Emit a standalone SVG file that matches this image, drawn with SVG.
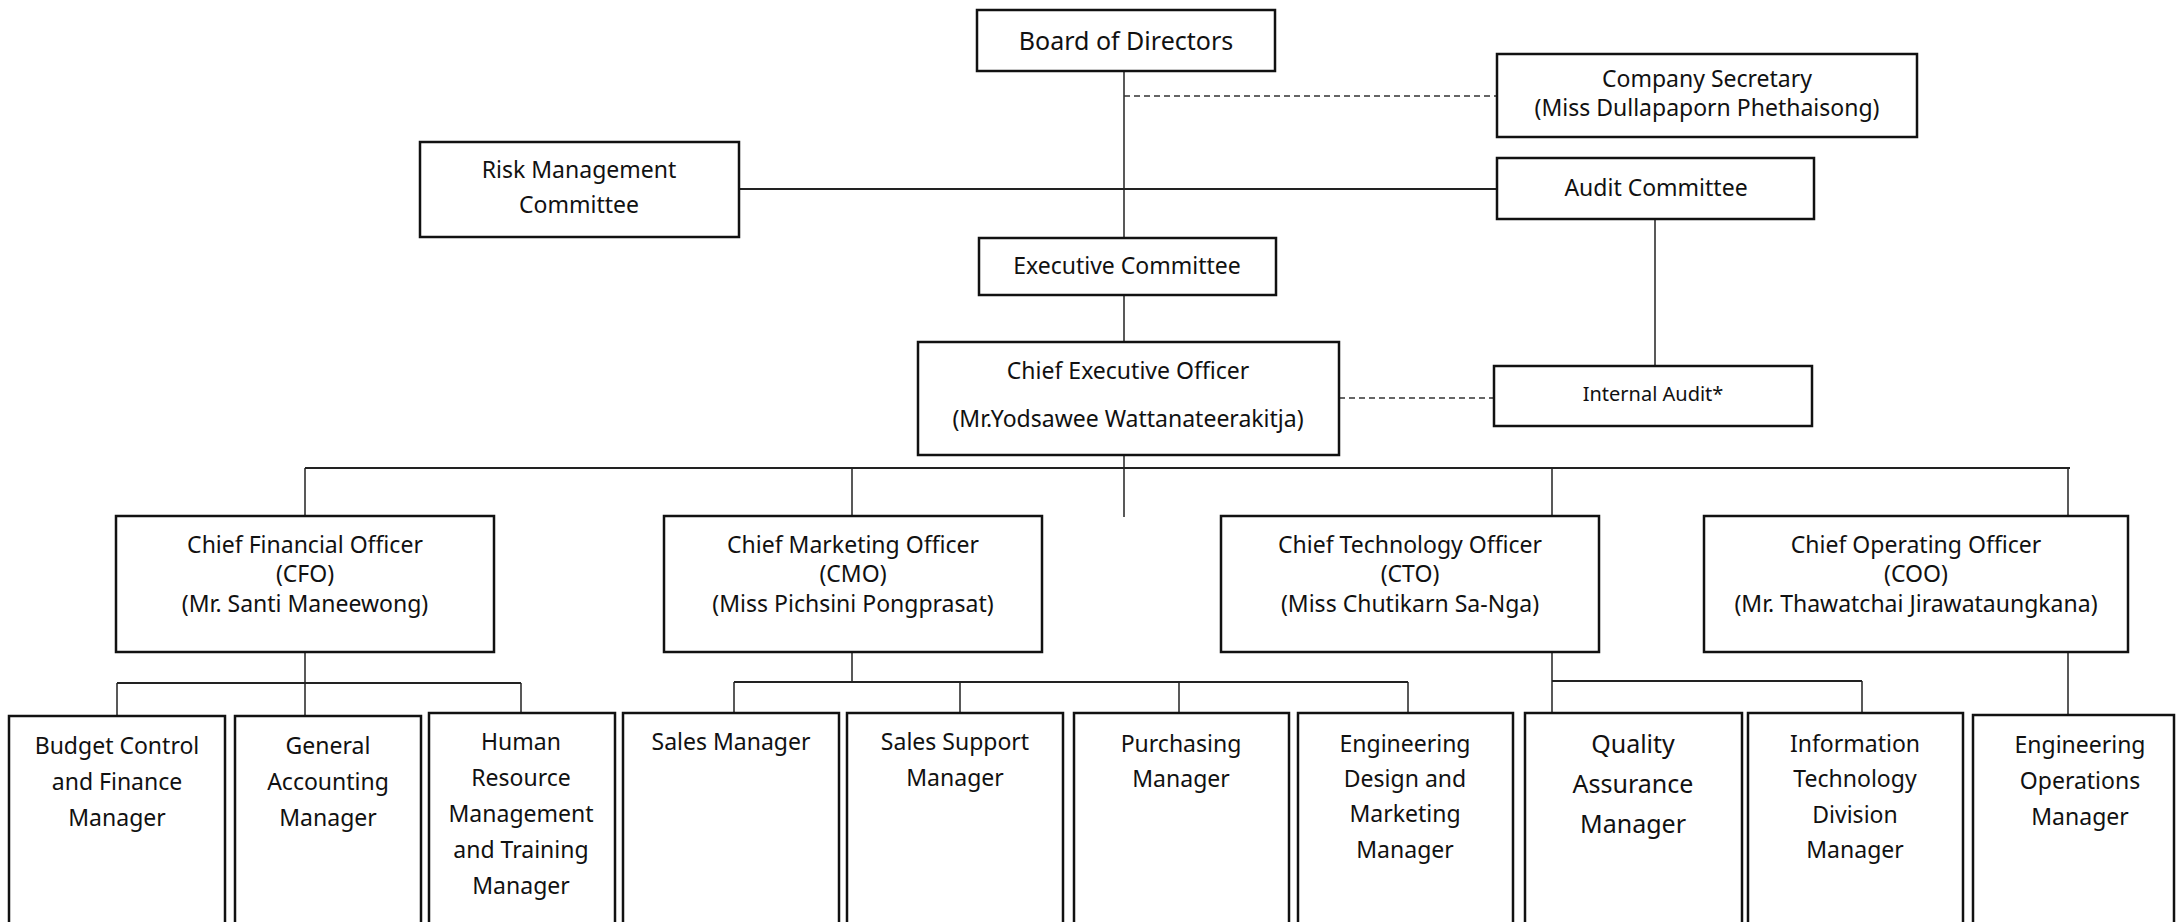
<svg xmlns="http://www.w3.org/2000/svg" width="2176" height="922" viewBox="0 0 2176 922">
<style>
.box{fill:#fff;stroke:#111;stroke-width:2.5}
.t{font-family:"Noto Sans","Open Sans",sans-serif;font-size:23px;fill:#111;text-anchor:middle}
.b{font-size:25px}
.s{font-size:20px}
.q{font-size:25px}
.c{stroke:#222;stroke-width:1.5;fill:none}
.d{stroke:#333;stroke-width:1.5;fill:none;stroke-dasharray:6 4}
</style>
<rect width="2176" height="922" fill="#fff"/>
<g id="connectors">
<line class="c" x1="1124" y1="71" x2="1124" y2="238"/>
<line class="d" x1="1124" y1="96" x2="1497" y2="96"/>
<line class="c" x1="739" y1="189" x2="1497" y2="189" style="stroke-width:2"/>
<line class="c" x1="1655" y1="219" x2="1655" y2="366"/>
<line class="c" x1="1124" y1="295" x2="1124" y2="342"/>
<line class="d" x1="1339" y1="398" x2="1494" y2="398"/>
<line class="c" x1="1124" y1="455" x2="1124" y2="517"/>
<line class="c" x1="305" y1="468" x2="2070" y2="468" style="stroke-width:2"/>
<line class="c" x1="305" y1="468" x2="305" y2="516"/>
<line class="c" x1="852" y1="468" x2="852" y2="516"/>
<line class="c" x1="1552" y1="468" x2="1552" y2="516"/>
<line class="c" x1="2068" y1="468" x2="2068" y2="516"/>
<line class="c" x1="305" y1="652" x2="305" y2="716"/>
<line class="c" x1="117" y1="683" x2="521" y2="683" style="stroke-width:2"/>
<line class="c" x1="117" y1="683" x2="117" y2="716"/>
<line class="c" x1="521" y1="683" x2="521" y2="713"/>
<line class="c" x1="852" y1="652" x2="852" y2="682"/>
<line class="c" x1="734" y1="682" x2="1408" y2="682" style="stroke-width:2"/>
<line class="c" x1="734" y1="682" x2="734" y2="713"/>
<line class="c" x1="960" y1="682" x2="960" y2="713"/>
<line class="c" x1="1179" y1="682" x2="1179" y2="713"/>
<line class="c" x1="1408" y1="682" x2="1408" y2="713"/>
<line class="c" x1="1552" y1="652" x2="1552" y2="713"/>
<line class="c" x1="1552" y1="681" x2="1862" y2="681" style="stroke-width:2"/>
<line class="c" x1="1862" y1="681" x2="1862" y2="713"/>
<line class="c" x1="2068" y1="652" x2="2068" y2="715"/>
</g>
<g id="board"><rect class="box" x="977" y="10" width="298" height="61"/><text class="t b" x="1126" y="50">Board of Directors</text></g>
<g id="secretary"><rect class="box" x="1497" y="54" width="420" height="83"/><text class="t" x="1707" y="87">Company Secretary</text><text class="t" x="1707" y="116">(Miss Dullapaporn Phethaisong)</text></g>
<g id="risk"><rect class="box" x="420" y="142" width="319" height="95"/><text class="t" x="579" y="178">Risk Management</text><text class="t" x="579" y="213">Committee</text></g>
<g id="audit"><rect class="box" x="1497" y="158" width="317" height="61"/><text class="t" x="1656" y="196">Audit Committee</text></g>
<g id="exec"><rect class="box" x="979" y="238" width="297" height="57"/><text class="t" x="1127" y="274">Executive Committee</text></g>
<g id="ceo"><rect class="box" x="918" y="342" width="421" height="113"/><text class="t" x="1128" y="379">Chief Executive Officer</text><text class="t" x="1128" y="427">(Mr.Yodsawee Wattanateerakitja)</text></g>
<g id="internal-audit"><rect class="box" x="1494" y="366" width="318" height="60"/><text class="t s" x="1653" y="401">Internal Audit*</text></g>
<g id="cfo"><rect class="box" x="116" y="516" width="378" height="136"/><text class="t" x="305" y="553">Chief Financial Officer</text><text class="t" x="305" y="582">(CFO)</text><text class="t" x="305" y="612">(Mr. Santi Maneewong)</text></g>
<g id="cmo"><rect class="box" x="664" y="516" width="378" height="136"/><text class="t" x="853" y="553">Chief Marketing Officer</text><text class="t" x="853" y="582">(CMO)</text><text class="t" x="853" y="612">(Miss Pichsini Pongprasat)</text></g>
<g id="cto"><rect class="box" x="1221" y="516" width="378" height="136"/><text class="t" x="1410" y="553">Chief Technology Officer</text><text class="t" x="1410" y="582">(CTO)</text><text class="t" x="1410" y="612">(Miss Chutikarn Sa-Nga)</text></g>
<g id="coo"><rect class="box" x="1704" y="516" width="424" height="136"/><text class="t" x="1916" y="553">Chief Operating Officer</text><text class="t" x="1916" y="582">(COO)</text><text class="t" x="1916" y="612">(Mr. Thawatchai Jirawataungkana)</text></g>
<g id="budget"><rect class="box" x="9" y="716" width="216" height="230"/><text class="t" x="117" y="754">Budget Control</text><text class="t" x="117" y="790">and Finance</text><text class="t" x="117" y="826">Manager</text></g>
<g id="general-accounting"><rect class="box" x="235" y="716" width="186" height="230"/><text class="t" x="328" y="754">General</text><text class="t" x="328" y="790">Accounting</text><text class="t" x="328" y="826">Manager</text></g>
<g id="hr"><rect class="box" x="429" y="713" width="186" height="230"/><text class="t" x="521" y="750">Human</text><text class="t" x="521" y="786">Resource</text><text class="t" x="521" y="822">Management</text><text class="t" x="521" y="858">and Training</text><text class="t" x="521" y="894">Manager</text></g>
<g id="sales"><rect class="box" x="623" y="713" width="216" height="230"/><text class="t" x="731" y="750">Sales Manager</text></g>
<g id="sales-support"><rect class="box" x="847" y="713" width="216" height="230"/><text class="t" x="955" y="750">Sales Support</text><text class="t" x="955" y="786">Manager</text></g>
<g id="purchasing"><rect class="box" x="1074" y="713" width="215" height="230"/><text class="t" x="1181" y="752">Purchasing</text><text class="t" x="1181" y="787">Manager</text></g>
<g id="eng-design"><rect class="box" x="1298" y="713" width="215" height="230"/><text class="t" x="1405" y="752">Engineering</text><text class="t" x="1405" y="787">Design and</text><text class="t" x="1405" y="822">Marketing</text><text class="t" x="1405" y="858">Manager</text></g>
<g id="quality"><rect class="box" x="1525" y="713" width="217" height="230"/><text class="t q" x="1633" y="753">Quality</text><text class="t q" x="1633" y="793">Assurance</text><text class="t q" x="1633" y="833">Manager</text></g>
<g id="it"><rect class="box" x="1748" y="713" width="215" height="230"/><text class="t" x="1855" y="752">Information</text><text class="t" x="1855" y="787">Technology</text><text class="t" x="1855" y="823">Division</text><text class="t" x="1855" y="858">Manager</text></g>
<g id="eng-ops"><rect class="box" x="1973" y="715" width="201" height="230"/><text class="t" x="2080" y="753">Engineering</text><text class="t" x="2080" y="789">Operations</text><text class="t" x="2080" y="825">Manager</text></g>
</svg>
